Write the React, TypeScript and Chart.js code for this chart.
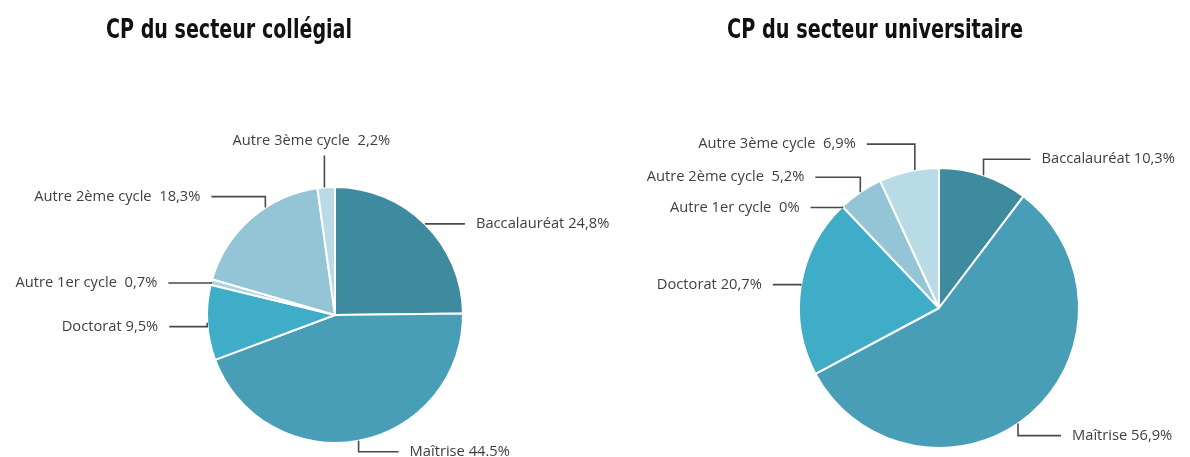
import React, { useEffect, useRef } from "react";
import { Chart, registerables } from "chart.js";

Chart.register(...registerables);

// ---------- data ----------
const categories = [
  "Baccalauréat",
  "Maîtrise",
  "Doctorat",
  "Autre 1er cycle",
  "Autre 2ème cycle",
  "Autre 3ème cycle",
];
const collegialValues = [24.8, 44.5, 9.5, 0.7, 18.3, 2.2];
const universitaireValues = [10.3, 56.9, 20.7, 0, 5.2, 6.9];
const collegialLabels = [
  "Baccalauréat 24,8%",
  "Maîtrise 44.5%",
  "Doctorat 9,5%",
  "Autre 1er cycle  0,7%",
  "Autre 2ème cycle  18,3%",
  "Autre 3ème cycle  2,2%",
];
const universitaireLabels = [
  "Baccalauréat 10,3%",
  "Maîtrise 56,9%",
  "Doctorat 20,7%",
  "Autre 1er cycle  0%",
  "Autre 2ème cycle  5,2%",
  "Autre 3ème cycle  6,9%",
];
const collegialTitle = "CP du secteur collégial";
const universitaireTitle = "CP du secteur universitaire";

// ---------- styles ----------
const sliceColors = ["#3e8a9e", "#489eb6", "#3fadc7", "#a9d3e2", "#94c5d7", "#b8dbe6"];
const LABEL_FONT = '14.7px "Open Sans", "Noto Sans", sans-serif';
const TITLE_FONT = 'bold 26px "Liberation Sans Narrow", "DejaVu Sans Condensed", "Roboto", sans-serif';

type Leader = { frac: number; dy: number; dx: number; tdx?: number; tdy?: number };

const collegialLeaders: Leader[] = [
  { frac: 0.5, dy: 0, dx: 40 },
  { frac: 0.5, dy: 11, dx: 40 },
  { frac: 0.5, dy: 4, dx: -38 },
  { frac: 0.5, dy: 1, dx: -43 },
  { frac: 0.62, dy: -11, dx: -54 },
  { frac: 0.4, dy: -32, dx: 0, tdx: -13, tdy: -15 },
];
const universitaireLeaders: Leader[] = [
  { frac: 0.5, dy: -16, dx: 47 },
  { frac: 0.53, dy: 12, dx: 43 },
  { frac: 0.5, dy: -1, dx: -28 },
  { frac: 0.5, dy: 1, dx: -32 },
  { frac: 0.5, dy: -15, dx: -45 },
  { frac: 0.6, dy: -26, dx: -48 },
];

type PieProps = {
  values: number[];
  labels: string[];
  leaders: Leader[];
  title: string;
  titleX: number;
  titleW: number;
  width: number;
  left: number;
  padding: { left: number; right: number; top: number; bottom: number };
};

function PieChart({ values, labels, leaders, title, titleX, titleW, width, left, padding }: PieProps) {
  const ref = useRef<HTMLCanvasElement | null>(null);
  useEffect(() => {
    if (!ref.current) return;
    const annot = {
      id: "annot",
      afterDatasetsDraw(chart: any) {
        const ctx = chart.ctx as CanvasRenderingContext2D;
        ctx.save();
        // title
        ctx.font = TITLE_FONT;
        ctx.fillStyle = "#111111";
        ctx.textAlign = "center";
        ctx.textBaseline = "alphabetic";
        ctx.fillText(title, titleX, 38, titleW);
        // leaders + labels
        const meta = chart.getDatasetMeta(0);
        ctx.font = LABEL_FONT;
        ctx.strokeStyle = "#4a4a4a";
        ctx.lineWidth = 1.6;
        ctx.fillStyle = "#3f3f3f";
        meta.data.forEach((arc: any, i: number) => {
          const p = arc.getProps(["x", "y", "startAngle", "endAngle", "outerRadius"], true);
          const L = leaders[i];
          const a = p.startAngle + (p.endAngle - p.startAngle) * L.frac;
          const px = p.x + Math.cos(a) * p.outerRadius;
          const py = p.y + Math.sin(a) * p.outerRadius;
          const ey = py + L.dy;
          const ex = px + L.dx;
          ctx.beginPath();
          ctx.moveTo(px, py);
          ctx.lineTo(px, ey);
          ctx.lineTo(ex, ey);
          ctx.stroke();
          if (L.dx === 0) {
            ctx.textAlign = "center";
            ctx.textBaseline = "middle";
            ctx.fillText(labels[i], px + (L.tdx || 0), ey + (L.tdy || 0));
          } else {
            const gap = 11;
            ctx.textAlign = L.dx > 0 ? "left" : "right";
            ctx.textBaseline = "middle";
            ctx.fillText(labels[i], ex + (L.dx > 0 ? gap : -gap), ey);
          }
        });
        ctx.restore();
      },
    };
    const chart = new Chart(ref.current, {
      type: "pie",
      data: {
        labels: categories,
        datasets: [
          {
            data: values,
            backgroundColor: sliceColors,
            borderColor: "#ffffff",
            borderWidth: 2,
          },
        ],
      },
      options: {
        responsive: false,
        animation: false,
        layout: { padding },
        plugins: {
          legend: { display: false },
          title: { display: false },
          tooltip: { enabled: false },
        },
      },
      plugins: [annot],
    });
    return () => chart.destroy();
  }, []);
  return (
    <canvas
      ref={ref}
      width={width}
      height={457}
      style={{ display: "block", position: "absolute", left, top: 0 }}
    />
  );
}

export default function App() {
  return (
    <div
      style={{
        position: "absolute",
        left: 0,
        top: 0,
        width: 1190,
        height: 457,
        background: "#ffffff",
      }}
    >
      <PieChart
        values={collegialValues}
        labels={collegialLabels}
        leaders={collegialLeaders}
        title={collegialTitle}
        titleX={229}
        titleW={246}
        width={640}
        left={0}
        padding={{ left: 206, right: 176, top: 186, bottom: 13 }}
      />
      <PieChart
        values={universitaireValues}
        labels={universitaireLabels}
        leaders={universitaireLeaders}
        title={universitaireTitle}
        titleX={280}
        titleW={296}
        width={595}
        left={595}
        padding={{ left: 203, right: 110, top: 167, bottom: 8 }}
      />
    </div>
  );
}
